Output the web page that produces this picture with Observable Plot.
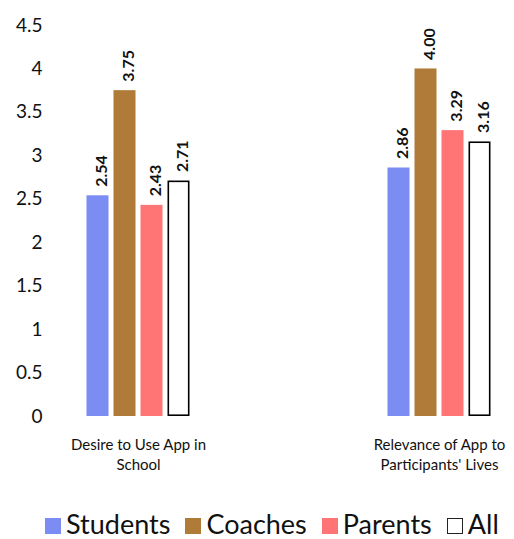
<!DOCTYPE html>
<html>
<head>
<meta charset="utf-8">
<script src="https://cdn.jsdelivr.net/npm/d3@7"></script>
<script src="https://cdn.jsdelivr.net/npm/@observablehq/plot@0.6"></script>
<style>
  html, body { margin: 0; padding: 0; background: #fff; }
  body { width: 514px; height: 539px; overflow: hidden; font-family: Lato, "Open Sans", sans-serif; color: #111; }
  #legend { display: flex; align-items: center; padding-left: 45px; margin-top: 19px; font-size: 27px; line-height: 30px; }
  #legend .item { display: flex; align-items: center; margin-right: 15px; }
  #legend .sw { width: 16px; height: 16px; margin-right: 5px; margin-top: 4px; box-sizing: border-box; }
</style>
</head>
<body>
<div id="chart"></div>
<div id="legend"></div>
<script>
// Survey ratings by respondent group
const categories = ["Desire to Use App in\nSchool", "Relevance of App to\nParticipants' Lives"];
const series = ["Students", "Coaches", "Parents", "All"];
const desireValues = [2.54, 3.75, 2.43, 2.71];
const relevanceValues = [2.86, 4.00, 3.29, 3.16];
const colors = ["#7b8cf3", "#b07a38", "#ff7474", "#ffffff"];
const yTicks = [0, 0.5, 1, 1.5, 2, 2.5, 3, 3.5, 4, 4.5];

const rows = [];
[desireValues, relevanceValues].forEach((vals, i) => {
  vals.forEach((v, j) => rows.push({category: categories[i], series: series[j], value: v}));
});

const chart = Plot.plot({
  width: 514,
  height: 490,
  marginTop: 25,
  marginBottom: 74,
  marginLeft: 82.5,
  marginRight: 20,
  style: {fontFamily: "Lato, 'Open Sans', sans-serif", color: "#111", background: "#fff"},
  fx: {domain: categories, paddingInner: 0.635, paddingOuter: 0, axis: null},
  x: {domain: series, paddingInner: 0.2, paddingOuter: 0.1, axis: null},
  y: {domain: [0, 4.5]},
  color: {domain: series, range: colors},
  marks: [
    Plot.axisY({ticks: yTicks, tickSize: 0, tickPadding: 41, fontSize: 19, tickFormat: d => String(d), label: null}),
    Plot.barY(rows, {fx: "category", x: "series", y: "value", fill: "series"}),
    Plot.barY(rows.filter(d => d.series === "All"), {
      fx: "category", x: "series", y: "value", fill: "none", stroke: "#000", strokeWidth: 1.6, inset: 0.8
    }),
    Plot.text(rows, {
      fx: "category", x: "series", y: "value", text: d => d.value.toFixed(2),
      rotate: -90, textAnchor: "start", dx: 4, dy: -9, fontWeight: "bold", fontSize: 16, fill: "#111"
    }),
    Plot.text(categories, {
      fx: d => d, text: d => d, frameAnchor: "bottom", lineAnchor: "top",
      dy: 19, fontSize: 15, lineHeight: 1.33, fill: "#111"
    })
  ]
});
document.getElementById("chart").append(chart);

// Legend below the chart
const legend = d3.select("#legend");
series.forEach((s, i) => {
  const item = legend.append("div").attr("class", "item");
  item.append("div").attr("class", "sw")
    .style("background", colors[i])
    .style("border", s === "All" ? "1.3px solid #222" : "none");
  item.append("span").text(s);
});
</script>
</body>
</html>
